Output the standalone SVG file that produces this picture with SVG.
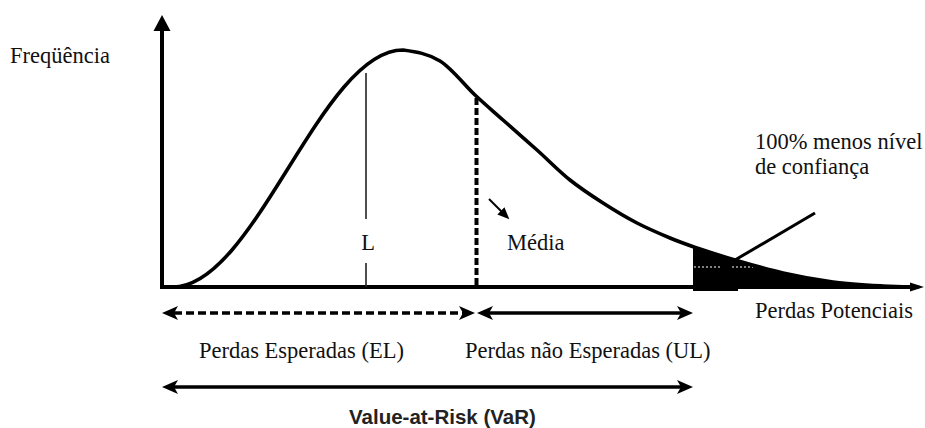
<svg xmlns="http://www.w3.org/2000/svg" width="925" height="428" viewBox="0 0 925 428">
  <style>
    .lbl { font-family: "Liberation Serif", "Times New Roman", "DejaVu Serif", serif; font-size: 22.5px; fill: #111; }
    .var { font-family: "Liberation Sans", Arial, sans-serif; font-size: 20.5px; font-weight: bold; fill: #222; }
    .axis { stroke: #000; stroke-width: 4; fill: none; }
    .curve { stroke: #000; stroke-width: 3.6; fill: none; stroke-linecap: round; }
    .arrow { stroke: #000; stroke-width: 3.6; fill: none; }
    .dashed { stroke-dasharray: 8 4; }
  </style>
  <defs>
    <marker id="head" markerUnits="userSpaceOnUse" viewBox="0 0 16 14" refX="4" refY="7" markerWidth="16" markerHeight="14" orient="auto-start-reverse">
      <path d="M0,0 L16,7 L0,14 L4,7 Z" fill="#000"/>
    </marker>
    <marker id="small" markerUnits="userSpaceOnUse" viewBox="0 0 12 10" refX="3" refY="5" markerWidth="12" markerHeight="10" orient="auto">
      <path d="M0,0 L12,5 L0,10 Z" fill="#000"/>
    </marker>
  </defs>

  <g id="axes">
    <line class="axis" x1="162" y1="289" x2="162" y2="28"/>
    <polygon points="162,15 153.5,31 170.5,31" fill="#000"/>
    <line class="axis" x1="160" y1="287" x2="912" y2="287"/>
    <polygon points="924,287 910,282.5 910,291.5" fill="#000"/>
  </g>

  <g id="tail-area">
    <path d="M693,289 L693,246.7 L697,248 C707.8,251.7 720.7,255.8 735,260 C749.3,264.2 766.7,269.3 783,273 C799.3,276.7 816.3,279.8 833,282 C849.7,284.2 868.8,285.2 883,286 C897.2,286.8 906.8,286.8 918,287 L918,289 Z" fill="#000"/>
    <rect x="693" y="286" width="45" height="5" fill="#000"/>
    <line x1="694" y1="267" x2="720" y2="267" stroke="#fff" stroke-width="1.2" stroke-dasharray="2 2"/>
    <line x1="732" y1="267" x2="753" y2="267" stroke="#fff" stroke-width="1.2" stroke-dasharray="2 2"/>
  </g>

  <g id="distribution-curve">
    <path class="curve" d="M173,287 C255,287 321,50 403,50 C415.8,51.8 428,53.5 440,61 C452,68.5 464.5,85.2 475,95 C485.5,104.8 492.7,110.8 503,120 C513.3,129.2 525.8,140 537,150 C548.2,160 559,171.2 570,180 C581,188.8 591.8,195.8 603,203 C614.2,210.2 625.8,217.2 637,223 C648.2,228.8 660,233.8 670,238 C680,242.2 686.2,244.3 697,248 C707.8,251.7 720.7,255.8 735,260 C749.3,264.2 766.7,269.3 783,273 C799.3,276.7 816.3,279.8 833,282 C849.7,284.2 868.8,285.2 883,286 C897.2,286.8 906.8,286.8 918,287"/>
  </g>

  <g id="node-L">
    <line x1="366" y1="73" x2="366" y2="219" stroke="#222" stroke-width="1.6"/>
    <line x1="366" y1="263" x2="366" y2="287" stroke="#222" stroke-width="1.6"/>
    <text class="lbl" x="368" y="250" text-anchor="middle">L</text>
  </g>

  <g id="node-media">
    <line x1="476.5" y1="98" x2="476.5" y2="287" stroke="#000" stroke-width="4" stroke-dasharray="7 3"/>
    <text class="lbl" x="507" y="250">Média</text>
  </g>

  <g id="node-frequencia">
    <text class="lbl" x="10" y="63">Freqüência</text>
  </g>

  <g id="node-confianca">
    <text class="lbl" x="755" y="149">100% menos nível</text>
    <text class="lbl" x="755" y="174">de confiança</text>
  </g>

  <g id="node-perdas-potenciais">
    <text class="lbl" x="755" y="318">Perdas Potenciais</text>
  </g>

  <g id="node-el">
    <text class="lbl" x="199" y="358">Perdas Esperadas (EL)</text>
  </g>

  <g id="node-ul">
    <text class="lbl" x="465" y="358">Perdas não Esperadas (UL)</text>
  </g>

  <g id="node-var">
    <text class="var" x="349" y="424">Value-at-Risk (VaR)</text>
  </g>

  <g id="connectors">
    <line x1="489" y1="199" x2="503" y2="213" stroke="#000" stroke-width="2" marker-end="url(#small)"/>
    <line x1="735" y1="260" x2="815" y2="213" stroke="#000" stroke-width="3"/>
    <line class="arrow dashed" x1="174" y1="313" x2="463" y2="313" marker-start="url(#head)" marker-end="url(#head)"/>
    <line class="arrow" x1="489" y1="313" x2="681" y2="313" marker-start="url(#head)" marker-end="url(#head)"/>
    <line class="arrow" x1="174" y1="387" x2="681" y2="387" marker-start="url(#head)" marker-end="url(#head)"/>
  </g>
</svg>
